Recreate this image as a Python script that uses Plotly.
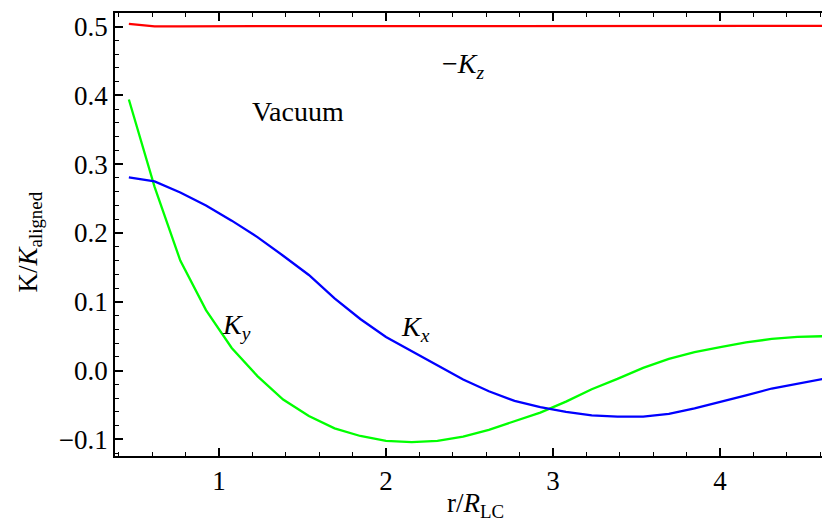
import plotly.graph_objects as go

r_vals = [0.460, 0.614, 0.768, 0.922, 1.076, 1.230, 1.384, 1.538, 1.692, 1.846,
          2.000, 2.154, 2.308, 2.462, 2.616, 2.770, 2.924, 3.078, 3.232, 3.386,
          3.540, 3.694, 3.848, 4.002, 4.156, 4.310, 4.464, 4.618]

kx_vals = [0.281, 0.275, 0.259, 0.240, 0.218, 0.194, 0.167, 0.139, 0.105, 0.075,
           0.049, 0.028, 0.008, -0.013, -0.030, -0.044, -0.053, -0.060, -0.065, -0.067,
           -0.067, -0.063, -0.055, -0.046, -0.036, -0.026, -0.019, -0.012]

ky_vals = [0.394, 0.267, 0.160, 0.088, 0.033, -0.008, -0.042, -0.066, -0.084, -0.095,
           -0.102, -0.104, -0.102, -0.096, -0.086, -0.074, -0.061, -0.045, -0.027, -0.012,
           0.004, 0.017, 0.027, 0.034, 0.041, 0.046, 0.049, 0.050]

mkz_vals = [0.504, 0.5005, 0.5005, 0.5005, 0.5005, 0.5006, 0.5006, 0.5006, 0.5007, 0.5007,
            0.5007, 0.5008, 0.5008, 0.5008, 0.5008, 0.5009, 0.5009, 0.5009, 0.5009, 0.5010,
            0.5010, 0.5010, 0.5010, 0.5011, 0.5011, 0.5011, 0.5012, 0.5012]

x_ticks = [1, 2, 3, 4]
y_ticks = [-0.1, 0.0, 0.1, 0.2, 0.3, 0.4, 0.5]

FONT = "Liberation Serif"
FS = 27

fig = go.Figure()
fig.add_trace(go.Scatter(x=r_vals, y=mkz_vals, mode="lines", line=dict(color="#ff0000", width=2.3)))
fig.add_trace(go.Scatter(x=r_vals, y=ky_vals, mode="lines", line=dict(color="#00ff00", width=2.3)))
fig.add_trace(go.Scatter(x=r_vals, y=kx_vals, mode="lines", line=dict(color="#0000ff", width=2.3)))

annots = [
    (2.461, 0.4436, "\u2212<i>K<sub>z</sub></i>"),
    (1.473, 0.3767, "Vacuum"),
    (1.102, 0.0644, "<i>K<sub>y</sub></i>"),
    (2.174, 0.0615, "<i>K<sub>x</sub></i>"),
]
for ax_, ay_, t in annots:
    fig.add_annotation(x=ax_, y=ay_, text=t, showarrow=False,
                       font=dict(family=FONT, size=28, color="black"))

# axis titles placed as annotations for precise positioning
fig.add_annotation(xref="paper", yref="paper", x=0.5, y=0, yanchor="middle",
                   yshift=-49, text="r/<i>R</i><sub>LC</sub>", showarrow=False,
                   font=dict(family=FONT, size=FS, color="black"))
fig.add_annotation(xref="paper", yref="paper", x=0, y=0.482, xanchor="center",
                   xshift=-85, textangle=-90, text="K/<i>K</i><sub>aligned</sub>", showarrow=False,
                   font=dict(family=FONT, size=FS, color="black"))

axis_common = dict(
    showline=True, linecolor="black", linewidth=1.8, mirror="ticks",
    ticks="inside", ticklen=8, tickwidth=1.6, tickcolor="black",
    showgrid=False, zeroline=False, automargin=False,
    tickfont=dict(family=FONT, size=FS, color="black"),
)

fig.update_xaxes(range=[0.377, 4.689], tickvals=x_ticks,
                 minor=dict(dtick=0.2, tick0=0, ticks="inside", ticklen=4.5, tickwidth=1.4, tickcolor="black", showgrid=False),
                 **axis_common)
fig.update_yaxes(range=[-0.1241, 0.5198], tickvals=y_ticks, tickformat=".1f",
                 minor=dict(dtick=0.02, tick0=0, ticks="inside", ticklen=4.5, tickwidth=1.4, tickcolor="black", showgrid=False),
                 **axis_common)

fig.update_layout(
    width=830, height=523,
    margin=dict(l=107, r=3, t=5, b=75),
    plot_bgcolor="white", paper_bgcolor="white",
    showlegend=False,
)

fig.write_html("out.html")
